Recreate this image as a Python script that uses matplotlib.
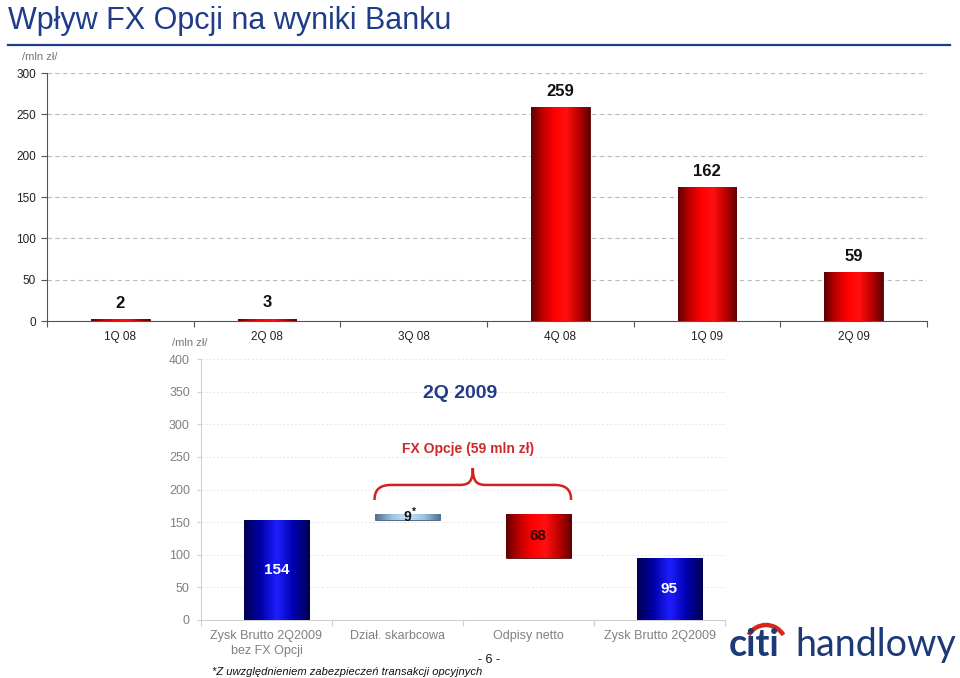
import numpy as np
import matplotlib
matplotlib.use("Agg")
import matplotlib.pyplot as plt
from matplotlib.colors import LinearSegmentedColormap
from matplotlib.path import Path
from matplotlib.patches import PathPatch, Arc
from matplotlib import font_manager

# ---------------- data ----------------
quarters = ["1Q 08", "2Q 08", "3Q 08", "4Q 08", "1Q 09", "2Q 09"]
fx_values = [2, 3, 0, 259, 162, 59]

wf_categories = ["Zysk Brutto 2Q2009\nbez FX Opcji", "Dział. skarbcowa", "Odpisy netto", "Zysk Brutto 2Q2009"]
wf_changes = [154, 9, -68, 95]           # start, +treasury, -impairments, result
wf_kinds = ["total", "delta", "delta", "total"]
wf_labels = ["154", "9", "68", "95"]

top_yticks = [0, 50, 100, 150, 200, 250, 300]
bottom_yticks = [0, 50, 100, 150, 200, 250, 300, 350, 400]

# ---------------- fonts ----------------
names = {f.name for f in font_manager.fontManager.ttflist}
SANS = "Liberation Sans" if "Liberation Sans" in names else "DejaVu Sans"
NARROW = "Liberation Sans Narrow" if "Liberation Sans Narrow" in names else SANS
LOGO = "Lato" if "Lato" in names else SANS
plt.rcParams["font.family"] = [SANS, "DejaVu Sans"]

W, H = 960, 678
fig = plt.figure(figsize=(W / 100, H / 100), dpi=100)
fig.patch.set_facecolor("white")


def fx(px):
    return px / W


def fy(py):
    return 1 - py / H


NAVY = "#1F3C88"

red_cmap = LinearSegmentedColormap.from_list("r", ["#5E0000", "#C00000", "#FF0000", "#FF1010", "#C00000", "#5E0000"])
blue_cmap = LinearSegmentedColormap.from_list("b", ["#000050", "#0000A8", "#1E1EFF", "#0000B0", "#000050"])
steel_cmap = LinearSegmentedColormap.from_list("s", ["#4F6F8F", "#9CC0E0", "#C8E2F6", "#9CC0E0", "#4F6F8F"])
grad = np.linspace(0, 1, 256).reshape(1, -1)


def shade(ax, patch, cmap):
    x0, y0 = patch.get_x(), patch.get_y()
    w, h = patch.get_width(), patch.get_height()
    if h == 0:
        return
    im = ax.imshow(grad, cmap=cmap, aspect="auto", extent=(x0, x0 + w, y0, y0 + h),
                   zorder=patch.get_zorder() + 0.1, interpolation="bicubic")
    im.set_clip_path(patch)


# ---------------- title ----------------
fig.text(fx(8), fy(29), "Wpływ FX Opcji na wyniki Banku", fontsize=22, color=NAVY,
         va="baseline", ha="left")
fig.add_artist(plt.Line2D([fx(8), fx(950)], [fy(45), fy(45)], color=NAVY, lw=1.6))

# ---------------- top chart ----------------
ax1 = fig.add_axes([fx(47), fy(321), fx(927) - fx(47), fy(73) - fy(321)])
x1 = np.arange(len(quarters))
bars1 = ax1.bar(x1, fx_values, width=0.4, color="#C00000", edgecolor="#5A0000", linewidth=0.6, zorder=3)
for b in bars1:
    shade(ax1, b, red_cmap)
for xi, v in zip(x1, fx_values):
    if v > 0:
        ax1.annotate(str(v), (xi, v), xytext=(0, 6), textcoords="offset points",
                     ha="center", va="bottom", fontsize=12, fontweight="bold", color="#111111")
ax1.set_xlim(-0.5, len(quarters) - 0.5)
ax1.set_ylim(0, 300)
ax1.set_yticks(top_yticks)
ax1.set_xticks(x1)
ax1.set_xticklabels(quarters)
ax1.set_xticks(np.arange(-0.5, len(quarters)), minor=True)
ax1.tick_params(axis="x", which="major", length=0, pad=7, labelsize=8.5, labelcolor="#222222")
ax1.tick_params(axis="x", which="minor", length=4, color="#555555", width=0.8)
ax1.tick_params(axis="y", length=4, color="#555555", width=0.8, labelsize=8.5, labelcolor="#222222", pad=4)
ax1.grid(axis="y", color="#BBBBBB", linestyle=(0, (4, 3)), linewidth=0.8, zorder=0)
for s in ["top", "right"]:
    ax1.spines[s].set_visible(False)
for s in ["left", "bottom"]:
    ax1.spines[s].set_color("#555555")
    ax1.spines[s].set_linewidth(0.8)
ax1.set_facecolor("none")
fig.text(fx(22), fy(57), "/mln zł/", fontsize=8, color="#777777", va="center", ha="left")

# ---------------- bottom chart (waterfall) ----------------
ax2 = fig.add_axes([fx(201), fy(620), fx(725) - fx(201), fy(359) - fy(620)])
x2 = np.arange(len(wf_categories))
bar_x = x2 + 0.075
bottoms, heights = [], []
running = 0
for v, k in zip(wf_changes, wf_kinds):
    if k == "total":
        bottoms.append(0)
        heights.append(v)
        running = v
    else:
        new = running + v
        bottoms.append(min(running, new))
        heights.append(abs(v))
        running = new
cmaps = [blue_cmap, steel_cmap, red_cmap, blue_cmap]
edges = ["#000040", "#3F5F7F", "#5A0000", "#000040"]
bars2 = ax2.bar(bar_x, heights, bottom=bottoms, width=0.5, color="#888888",
                edgecolor=edges, linewidth=0.6, zorder=3)
for b, cm in zip(bars2, cmaps):
    shade(ax2, b, cm)
lab_colors = ["white", "#111111", "#3A0000", "white"]
for xi, bt, ht, lab, c in zip(bar_x, bottoms, heights, wf_labels, lab_colors):
    yy = bt + ht / 2
    ax2.text(xi, yy - (1 if ht < 20 else 0), lab, ha="center", va="center", fontsize=11 if ht > 20 else 10,
             fontweight="bold", color=c, family=[NARROW, "DejaVu Sans"], zorder=5)
# asterisk for treasury value
ax2.text(bar_x[1] + 0.035, bottoms[1] + heights[1] + 2, "*", ha="left", va="center", fontsize=7,
         fontweight="bold", color="#111111", zorder=5)

ax2.set_xlim(-0.5, len(wf_categories) - 0.5)
ax2.set_ylim(0, 400)
ax2.set_yticks(bottom_yticks)
ax2.set_xticks(x2)
ax2.set_xticklabels(wf_categories, family=[NARROW, "DejaVu Sans"], linespacing=1.35)
ax2.set_xticks(np.arange(-0.5, len(wf_categories)), minor=True)
ax2.tick_params(axis="x", which="major", length=0, pad=7, labelsize=9, labelcolor="#808080")
ax2.tick_params(axis="x", which="minor", length=4, color="#D0D0D0", width=0.8)
ax2.tick_params(axis="y", length=3, color="#D0D0D0", width=0.8, labelsize=9, labelcolor="#808080", pad=5)
for t in ax2.get_yticklabels():
    t.set_family([NARROW, "DejaVu Sans"])
ax2.grid(axis="y", color="#E6E6E6", linestyle=(0, (2, 2)), linewidth=0.7, zorder=0)
for s in ["top", "right"]:
    ax2.spines[s].set_visible(False)
for s in ["left", "bottom"]:
    ax2.spines[s].set_color("#D0D0D0")
    ax2.spines[s].set_linewidth(0.8)
ax2.set_facecolor("none")
fig.text(fx(172), fy(343), "/mln zł/", fontsize=8, color="#777777", va="center", ha="left")

# annotations on bottom chart
fig.text(fx(460), fy(393), "2Q 2009", fontsize=14, fontweight="bold", color=NAVY, ha="center", va="center")
fig.text(fx(468), fy(449), "FX Opcje (59 mln zł)", fontsize=10, fontweight="bold", color="#D02828",
         ha="center", va="center")

# brace spanning the two FX-related bars
xl = bar_x[1] - 0.25
xr = bar_x[2] + 0.25
xm = (xl + xr) / 2
y0, y1, yp = 184, 207, 233
verts = [(xl, y0), (xl, 200), (xl + 0.04, y1), (xl + 0.13, y1),
         (xm - 0.1, y1),
         (xm - 0.03, y1), (xm, 212), (xm, yp),
         (xm, 212), (xm + 0.03, y1), (xm + 0.1, y1),
         (xr - 0.13, y1),
         (xr - 0.04, y1), (xr, 200), (xr, y0)]
codes = [Path.MOVETO, Path.CURVE4, Path.CURVE4, Path.CURVE4,
         Path.LINETO,
         Path.CURVE4, Path.CURVE4, Path.CURVE4,
         Path.CURVE4, Path.CURVE4, Path.CURVE4,
         Path.LINETO,
         Path.CURVE4, Path.CURVE4, Path.CURVE4]
ax2.add_patch(PathPatch(Path(verts, codes), facecolor="none", edgecolor="#D42020", lw=1.8,
                        clip_on=False, zorder=4))

# ---------------- footer ----------------
fig.text(fx(212), fy(672), "*Z uwzględnieniem zabezpieczeń transakcji opcyjnych", fontsize=8,
         style="italic", color="#111111", ha="left", va="center")
fig.text(fx(489), fy(660), "- 6 -", fontsize=9, color="#111111", ha="center", va="center")

# logo
fig.text(fx(729), fy(656), "citi", fontsize=27, fontweight="bold", color="#1C3A78",
         family=[LOGO, "DejaVu Sans"], ha="left", va="baseline")
fig.text(fx(795), fy(656), "handlowy", fontsize=27, color="#1C3A78",
         family=[LOGO, "DejaVu Sans"], ha="left", va="baseline")
fig.add_artist(Arc((7.66, (H - 645) / 100), 0.40, 0.40, theta1=30, theta2=150,
                   transform=fig.dpi_scale_trans, color="#D9261C", lw=3.2))

fig.savefig("out.png", dpi=100, facecolor="white")
